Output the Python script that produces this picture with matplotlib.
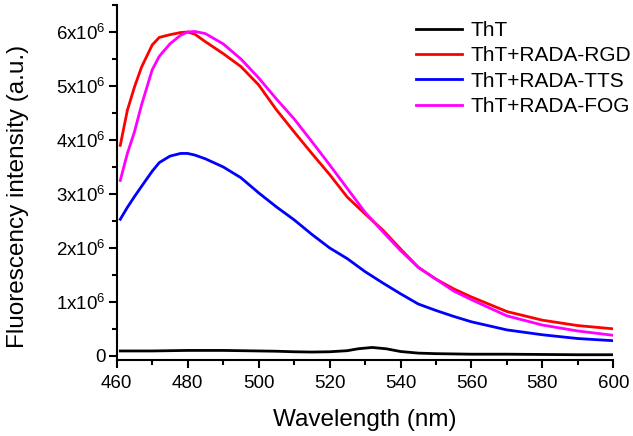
import numpy as np
import matplotlib.pyplot as plt
from matplotlib.ticker import MultipleLocator, FuncFormatter

plt.rcParams['font.family'] = ['Liberation Sans', 'DejaVu Sans']
plt.rcParams['mathtext.fontset'] = 'custom'
plt.rcParams['mathtext.rm'] = 'Liberation Sans'
plt.rcParams['mathtext.it'] = 'Liberation Sans'

# wavelength grid (nm) for the peptide samples
wl = [461, 463, 465, 467, 470, 472, 475, 478, 480, 482, 485, 490, 495, 500,
      505, 510, 515, 520, 525, 530, 535, 540, 545, 550, 555, 560, 570, 580,
      590, 600]

# intensities in units of 1e6
rgd = [3.90, 4.55, 4.98, 5.35, 5.76, 5.90, 5.95, 5.99, 6.00, 5.96, 5.82, 5.60,
       5.36, 5.02, 4.56, 4.15, 3.75, 3.36, 2.94, 2.63, 2.33, 1.98, 1.64, 1.42,
       1.24, 1.09, 0.82, 0.66, 0.56, 0.50]
tts = [2.53, 2.75, 2.95, 3.14, 3.42, 3.58, 3.70, 3.75, 3.75, 3.72, 3.65, 3.50,
       3.30, 3.02, 2.76, 2.52, 2.25, 2.00, 1.80, 1.56, 1.35, 1.15, 0.96, 0.84,
       0.73, 0.63, 0.48, 0.39, 0.32, 0.28]
fog = [3.25, 3.75, 4.15, 4.65, 5.30, 5.55, 5.78, 5.94, 6.00, 6.01, 5.97, 5.78,
       5.50, 5.15, 4.76, 4.39, 3.97, 3.54, 3.10, 2.66, 2.30, 1.95, 1.64, 1.42,
       1.20, 1.04, 0.74, 0.57, 0.46, 0.38]

# ThT alone
wl_tht = [461, 470, 480, 490, 500, 505, 510, 515, 520, 525, 528, 532, 536, 540,
          545, 550, 560, 570, 580, 590, 600]
tht = [0.09, 0.09, 0.10, 0.10, 0.09, 0.085, 0.075, 0.07, 0.075, 0.095, 0.13,
       0.155, 0.13, 0.08, 0.05, 0.04, 0.03, 0.03, 0.025, 0.02, 0.02]

scale = 1e6

fig = plt.figure(figsize=(6.33, 4.36), dpi=100)
ax = fig.add_axes([0.1844, 0.174, 0.969 - 0.1844, 0.9885 - 0.174])

ax.plot(wl_tht, np.array(tht) * scale, color='black', lw=2, label='ThT')
ax.plot(wl, np.array(rgd) * scale, color='#ff0000', lw=2, label='ThT+RADA-RGD')
ax.plot(wl, np.array(tts) * scale, color='#0000ff', lw=2, label='ThT+RADA-TTS')
ax.plot(wl, np.array(fog) * scale, color='#ff00ff', lw=2, label='ThT+RADA-FOG')

ax.set_xlim(460, 600)
ax.set_ylim(-0.08e6, 6.5e6)

ax.spines['top'].set_visible(False)
ax.spines['right'].set_visible(False)
for s in ('left', 'bottom'):
    ax.spines[s].set_linewidth(1.5)

ax.xaxis.set_major_locator(MultipleLocator(20))
ax.xaxis.set_minor_locator(MultipleLocator(10))
ax.yaxis.set_major_locator(MultipleLocator(1e6))
ax.yaxis.set_minor_locator(MultipleLocator(0.5e6))


def yfmt(v, pos):
    n = int(round(v / 1e6))
    if n == 0:
        return '0'
    return f'{n}x10$^6$'


ax.yaxis.set_major_formatter(FuncFormatter(yfmt))
ax.tick_params(which='major', direction='out', length=6, width=1.5,
               labelsize=13.5)
ax.tick_params(which='minor', direction='out', length=3.5, width=1.5)
ax.tick_params(axis='y', which='major', pad=2)
ax.tick_params(axis='x', which='major', pad=5)

ax.set_xlabel('Wavelength (nm)', fontsize=17.5, labelpad=12)
ax.set_ylabel('Fluorescency intensity (a.u.)', fontsize=17.5)
ax.yaxis.set_label_coords(-0.176, 0.46)

ax.legend(loc='upper right', bbox_to_anchor=(1.06, 0.99), frameon=False,
          fontsize=15, handlelength=2.2, handletextpad=0.4,
          labelspacing=0.3, borderaxespad=0.2)

fig.savefig('out.png', dpi=100)
